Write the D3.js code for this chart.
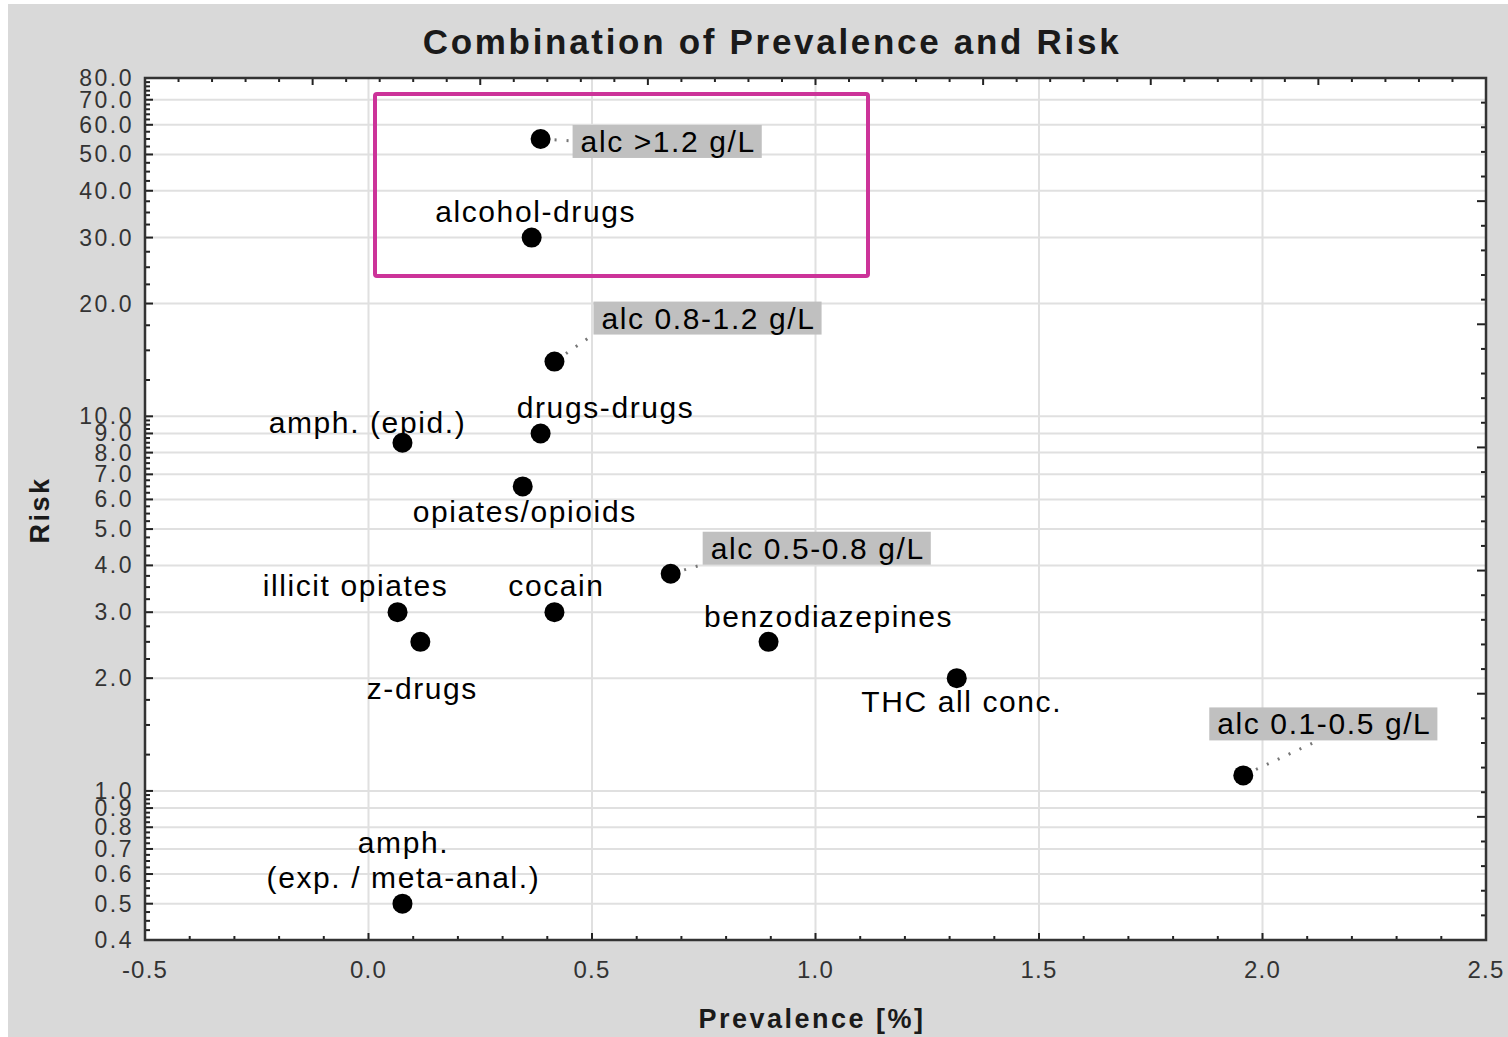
<!DOCTYPE html>
<html>
<head>
<meta charset="utf-8">
<script src="https://cdn.jsdelivr.net/npm/d3@7"></script>
<style>
  body { margin: 0; background: #fff; }
  svg { display: block; font-family: "Liberation Sans", Arial, sans-serif; }
</style>
</head>
<body>
<svg id="chart" width="1508" height="1037"></svg>
<script>
// data
const names = ['alc >1.2 g/L', 'alcohol-drugs', 'alc 0.8-1.2 g/L', 'amph. (epid.)', 'drugs-drugs',
    'opiates/opioids', 'alc 0.5-0.8 g/L', 'illicit opiates', 'cocain', 'z-drugs',
    'benzodiazepines', 'THC all conc.', 'alc 0.1-0.5 g/L', 'amph.\n(exp. / meta-anal.)'];
const prevalence = [0.385, 0.365, 0.416, 0.076, 0.385, 0.345, 0.676, 0.065, 0.416, 0.116, 0.895, 1.316, 1.957, 0.076];
const risk = [55, 30, 14, 8.5, 9.0, 6.5, 3.8, 3.0, 3.0, 2.5, 2.5, 2.0, 1.1, 0.5];
const yTickValues = [80, 70, 60, 50, 40, 30, 20, 10, 9, 8, 7, 6, 5, 4, 3, 2, 1, 0.9, 0.8, 0.7, 0.6, 0.5, 0.4];
const xTickValues = [-0.5, 0, 0.5, 1.0, 1.5, 2.0, 2.5];

// label placement (pixel offsets from the point)
const labelLayout = {
    'alc >1.2 g/L':       { boxed: true, dx: 32, dy: -14, lx: 32, ly: 2 },
    'alc 0.8-1.2 g/L':    { boxed: true, dx: 39, dy: -60, lx: 36, ly: -25 },
    'alc 0.5-0.8 g/L':    { boxed: true, dx: 32, dy: -42, lx: 35, ly: -10 },
    'alc 0.1-0.5 g/L':    { boxed: true, dx: -34, dy: -68, lx: 73, ly: -34 },
    'alcohol-drugs':      { dx: 4, dy: -16 },
    'amph. (epid.)':      { dx: -35, dy: -10 },
    'drugs-drugs':        { dx: 65, dy: -15 },
    'opiates/opioids':    { dx: 2, dy: 36 },
    'illicit opiates':    { dx: -42, dy: -16 },
    'cocain':             { dx: 2, dy: -16 },
    'z-drugs':            { dx: 2, dy: 57 },
    'benzodiazepines':    { dx: 60, dy: -15 },
    'THC all conc.':      { dx: 5, dy: 34 },
    'amph.\n(exp. / meta-anal.)': { dx: 1, dy: -51 }
};

const svg = d3.select('#chart');
const pLeft = 145, pRight = 1486, pTop = 78, pBottom = 940;

const x = d3.scaleLinear().domain([-0.5, 2.5]).range([pLeft, pRight]);
const y = d3.scaleLog().domain([0.4, 80]).range([pBottom, pTop]);
const fmt = v => d3.format('.1f')(v).replace('\u2212', '-');

// outer frame
svg.append('rect')
    .attr('x', 8).attr('y', 4)
    .attr('width', 1500).attr('height', 1033)
    .attr('fill', '#d9d9d9');

svg.append('rect')
    .attr('x', pLeft).attr('y', pTop)
    .attr('width', pRight - pLeft).attr('height', pBottom - pTop)
    .attr('fill', '#fff');

// grid
const grid = svg.append('g').attr('stroke', '#e0e0e0').attr('stroke-width', 2);
grid.selectAll('line.h')
    .data(yTickValues.filter(v => v > 0.4 && v < 80))
    .join('line')
    .attr('class', 'h')
    .attr('x1', pLeft).attr('x2', pRight)
    .attr('y1', d => y(d)).attr('y2', d => y(d));
grid.selectAll('line.v')
    .data(xTickValues.filter(v => v > -0.5 && v < 2.5))
    .join('line')
    .attr('class', 'v')
    .attr('x1', d => x(d)).attr('x2', d => x(d))
    .attr('y1', pTop).attr('y2', pBottom);

// ticks
const ticks = svg.append('g').attr('stroke', '#222').attr('stroke-width', 2);

// bottom: every 0.1, long every 0.5
d3.range(0, 31).forEach(i => {
    const v = -0.5 + i * 0.1;
    const len = i % 5 === 0 ? 7 : 4;
    ticks.append('line')
        .attr('x1', x(v)).attr('x2', x(v))
        .attr('y1', pBottom).attr('y2', pBottom - len);
});
// top: every 0.075, long every 0.375
d3.range(0, 41).forEach(i => {
    const v = -0.5 + i * 0.075;
    const len = i % 5 === 0 ? 7 : 4;
    ticks.append('line')
        .attr('x1', x(v)).attr('x2', x(v))
        .attr('y1', pTop).attr('y2', pTop + len);
});
// right: 35 even steps, long every 5
d3.range(0, 36).forEach(i => {
    const py = pTop + i * (pBottom - pTop) / 35;
    const len = i % 5 === 0 ? 9 : 5;
    ticks.append('line')
        .attr('x1', pRight).attr('x2', pRight - len)
        .attr('y1', py).attr('y2', py);
});
// left: log minors
const minors = [];
for (let v = 0.4; v < 1 - 1e-9; v += 0.025) minors.push(v);
for (let v = 1; v < 10 - 1e-9; v += 0.25) minors.push(v);
for (let v = 10; v < 60 - 1e-9; v += 2.5) minors.push(v);
for (let v = 60; v <= 80 + 1e-9; v += 2) minors.push(v);
minors.forEach(v => {
    const isMajor = yTickValues.some(t => Math.abs(t - v) < 1e-6);
    ticks.append('line')
        .attr('x1', pLeft).attr('x2', pLeft + (isMajor ? 8 : 5))
        .attr('y1', y(v)).attr('y2', y(v));
});

// frame
svg.append('rect')
    .attr('x', pLeft).attr('y', pTop)
    .attr('width', pRight - pLeft).attr('height', pBottom - pTop)
    .attr('fill', 'none').attr('stroke', '#333').attr('stroke-width', 2.5);

// tick labels
svg.append('g')
    .selectAll('text')
    .data(yTickValues)
    .join('text')
    .attr('x', 134)
    .attr('y', d => y(d) + 8)
    .attr('text-anchor', 'end')
    .attr('font-size', 23)
    .attr('letter-spacing', 2.5)
    .attr('fill', '#333')
    .text(fmt);

svg.append('g')
    .selectAll('text')
    .data(xTickValues)
    .join('text')
    .attr('x', d => x(d))
    .attr('y', 978)
    .attr('text-anchor', 'middle')
    .attr('font-size', 24)
    .attr('letter-spacing', 1.2)
    .attr('fill', '#333')
    .text(fmt);

// titles
svg.append('text')
    .attr('x', 772).attr('y', 54)
    .attr('text-anchor', 'middle')
    .attr('font-size', 35).attr('font-weight', 'bold')
    .attr('letter-spacing', 2.7)
    .attr('fill', '#1a1a1a')
    .text('Combination of Prevalence and Risk');

svg.append('text')
    .attr('x', 812).attr('y', 1028)
    .attr('text-anchor', 'middle')
    .attr('font-size', 27).attr('font-weight', 'bold')
    .attr('letter-spacing', 2.5)
    .attr('fill', '#1a1a1a')
    .text('Prevalence [%]');

svg.append('text')
    .attr('transform', 'translate(49,510) rotate(-90)')
    .attr('text-anchor', 'middle')
    .attr('font-size', 27).attr('font-weight', 'bold')
    .attr('letter-spacing', 2.5)
    .attr('fill', '#1a1a1a')
    .text('Risk');

// highlight box
svg.append('rect')
    .attr('x', 375).attr('y', 94)
    .attr('width', 493).attr('height', 182)
    .attr('rx', 2)
    .attr('fill', 'none')
    .attr('stroke', '#cc3399')
    .attr('stroke-width', 4);

const points = names.map((n, i) => ({ name: n, px: x(prevalence[i]), py: y(risk[i]) }));

// labels
const labels = svg.append('g')
    .attr('font-size', 30)
    .attr('letter-spacing', 1.6)
    .attr('fill', '#000');
points.forEach(p => {
    const lay = labelLayout[p.name];
    if (lay.boxed) {
        const g = labels.append('g');
        const t = g.append('text')
            .attr('x', p.px + lay.dx + 8)
            .attr('y', p.py + lay.dy + 27)
            .text(p.name);
        const w = t.node().getComputedTextLength();
        g.insert('rect', 'text')
            .attr('x', p.px + lay.dx).attr('y', p.py + lay.dy)
            .attr('width', w + 14).attr('height', 33)
            .attr('fill', '#c0c0c0');
        // dotted leader
        const ex = p.px + lay.lx, ey = p.py + lay.ly;
        const ang = Math.atan2(ey - p.py, ex - p.px);
        svg.append('line')
            .attr('x1', p.px + 14 * Math.cos(ang)).attr('y1', p.py + 14 * Math.sin(ang))
            .attr('x2', ex).attr('y2', ey)
            .attr('stroke', '#777').attr('stroke-width', 3)
            .attr('stroke-dasharray', '2,10');
    } else {
        const lines = p.name.split('\n');
        lines.forEach((ln, k) => {
            labels.append('text')
                .attr('x', p.px + lay.dx)
                .attr('y', p.py + lay.dy + k * 35)
                .attr('text-anchor', 'middle')
                .text(ln);
        });
    }
});

// points
svg.append('g')
    .selectAll('circle')
    .data(points)
    .join('circle')
    .attr('cx', d => d.px)
    .attr('cy', d => d.py)
    .attr('r', 10)
    .attr('fill', '#000');
</script>
</body>
</html>
